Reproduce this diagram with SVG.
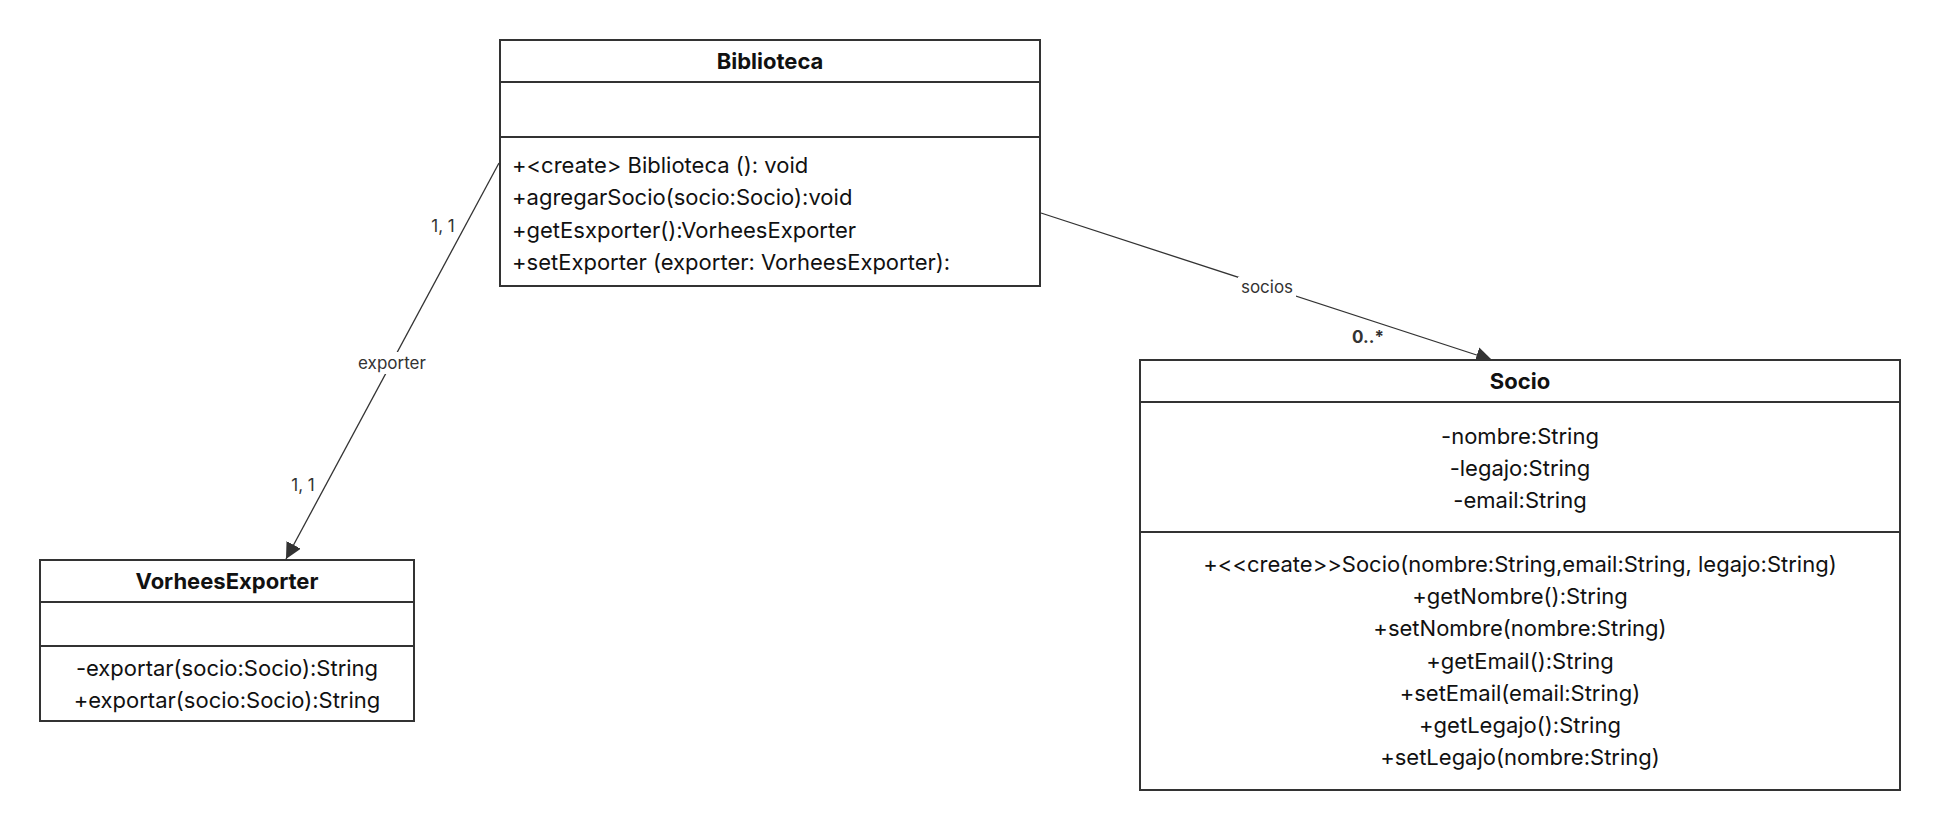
<svg xmlns="http://www.w3.org/2000/svg" width="1940" height="830" viewBox="0 0 1940 830">
<defs>
<style>
.box{fill:#fff;stroke:#333;stroke-width:2}
.sep{stroke:#333;stroke-width:2}
.t{font-family:Inter,"Liberation Sans",sans-serif;font-size:22px;fill:#111}
.b{font-weight:bold}
.c{text-anchor:middle}
.lbl{font-family:Inter,"Liberation Sans",sans-serif;font-size:17px;fill:#333;text-anchor:middle}
.edge{stroke:#333;stroke-width:1.3;fill:none}
</style>
<marker id="arr" viewBox="0 0 16 16" refX="16" refY="8" markerWidth="16" markerHeight="16" markerUnits="userSpaceOnUse" orient="auto">
<path d="M0,0 L16,8 L0,16 z" fill="#333"/>
</marker>
</defs>
<rect width="1940" height="830" fill="#fff"/>
<g id="connectors">
<line class="edge" x1="499" y1="163" x2="286" y2="559" marker-end="url(#arr)"/>
<line class="edge" x1="1041" y1="213" x2="1492" y2="360" marker-end="url(#arr)"/>
<rect x="355" y="352" width="74" height="22" fill="#fff"/>
<text class="lbl" x="392" y="369">exporter</text>
<text class="lbl" x="443" y="232">1, 1</text>
<text class="lbl" x="303" y="491">1, 1</text>
<rect x="1238" y="277" width="58" height="22" fill="#fff"/>
<text class="lbl" x="1267" y="293">socios</text>
<text class="lbl b" x="1368" y="343">0..*</text>
</g>
<g id="biblioteca">
<rect class="box" x="500" y="40" width="540" height="246"/>
<line class="sep" x1="500" y1="82" x2="1040" y2="82"/>
<line class="sep" x1="500" y1="137" x2="1040" y2="137"/>
<text class="t b c" x="770" y="69">Biblioteca</text>
<text class="t" x="512" y="173">+&lt;create&gt; Biblioteca (): void</text>
<text class="t" x="512" y="205">+agregarSocio(socio:Socio):void</text>
<text class="t" x="512" y="238">+getEsxporter():VorheesExporter</text>
<text class="t" x="512" y="270">+setExporter (exporter: VorheesExporter):</text>
</g>
<g id="vorheesexporter">
<rect class="box" x="40" y="560" width="374" height="161"/>
<line class="sep" x1="40" y1="602" x2="414" y2="602"/>
<line class="sep" x1="40" y1="646" x2="414" y2="646"/>
<text class="t b c" x="227" y="589">VorheesExporter</text>
<text class="t c" x="227" y="676">-exportar(socio:Socio):String</text>
<text class="t c" x="227" y="708">+exportar(socio:Socio):String</text>
</g>
<g id="socio">
<rect class="box" x="1140" y="360" width="760" height="430"/>
<line class="sep" x1="1140" y1="402" x2="1900" y2="402"/>
<line class="sep" x1="1140" y1="532" x2="1900" y2="532"/>
<text class="t b c" x="1520" y="389">Socio</text>
<text class="t c" x="1520" y="444">-nombre:String</text>
<text class="t c" x="1520" y="476">-legajo:String</text>
<text class="t c" x="1520" y="508">-email:String</text>
<text class="t c" x="1520" y="572">+&lt;&lt;create&gt;&gt;Socio(nombre:String,email:String, legajo:String)</text>
<text class="t c" x="1520" y="604">+getNombre():String</text>
<text class="t c" x="1520" y="636">+setNombre(nombre:String)</text>
<text class="t c" x="1520" y="669">+getEmail():String</text>
<text class="t c" x="1520" y="701">+setEmail(email:String)</text>
<text class="t c" x="1520" y="733">+getLegajo():String</text>
<text class="t c" x="1520" y="765">+setLegajo(nombre:String)</text>
</g>
</svg>
